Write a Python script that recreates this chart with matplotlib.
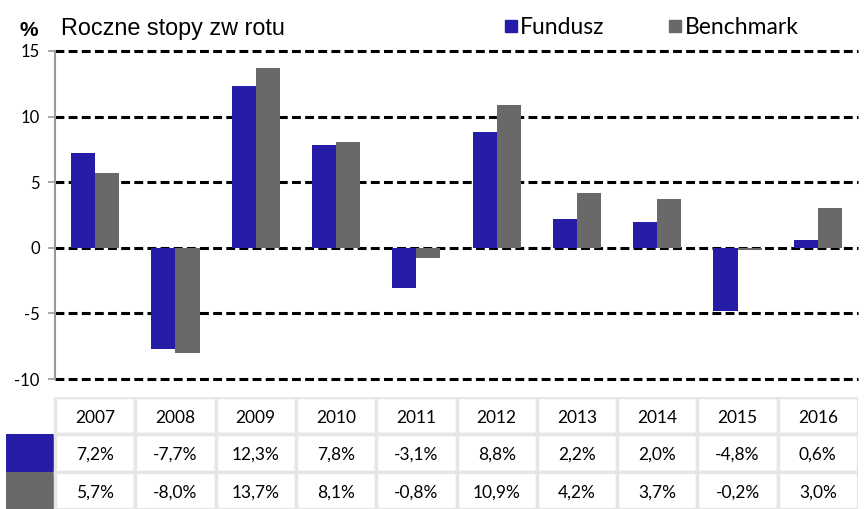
import matplotlib.pyplot as plt
from matplotlib.patches import Rectangle

years = ['2007', '2008', '2009', '2010', '2011', '2012', '2013', '2014', '2015', '2016']
fundusz = [7.2, -7.7, 12.3, 7.8, -3.1, 8.8, 2.2, 2.0, -4.8, 0.6]
benchmark = [5.7, -8.0, 13.7, 8.1, -0.8, 10.9, 4.2, 3.7, -0.2, 3.0]
y_ticks = [-10, -5, 0, 5, 10, 15]

blue = '#261DA6'
grey = '#696969'
W, H = 864, 509

fig = plt.figure(figsize=(8.64, 5.09), dpi=100)

def px_axes(x0, y0, x1, y1):
    # pixel box (top-left origin) -> figure axes
    return fig.add_axes([x0 / W, 1 - y1 / H, (x1 - x0) / W, (y1 - y0) / H])

ax = px_axes(55, 51, 858, 379)
n = len(years)
xs = [i + 0.5 for i in range(n)]
ax.bar([x - 0.15 for x in xs], fundusz, width=0.3, color=blue, zorder=3)
ax.bar([x + 0.15 for x in xs], benchmark, width=0.3, color=grey, zorder=3)
ax.set_xlim(0, n)
ax.set_ylim(-10, 15)
ax.set_yticks(y_ticks)
ax.set_yticklabels([str(t) for t in y_ticks], family='Lato', fontsize=12)
for t in y_ticks:
    ax.axhline(t, color='black', linestyle=(0, (2.9, 1.4)), linewidth=2.2,
               zorder=2, clip_on=False)
ax.set_xticks([])
for s in ['top', 'right', 'bottom']:
    ax.spines[s].set_visible(False)
ax.spines['left'].set_color('#999999')
ax.spines['left'].set_linewidth(1.5)
ax.tick_params(axis='y', color='#999999', length=5, width=1.2, pad=6)

# title
fig.text(19 / W, 1 - 30 / H, '%', family='Liberation Sans', fontsize=15,
         fontweight='bold', va='center', ha='left')
fig.text(61 / W, 1 - 29 / H, 'Roczne stopy zw rotu', family='Liberation Sans',
         fontsize=16.8, va='center', ha='left')

# legend
fig.patches.append(Rectangle((505 / W, 1 - 32 / H), 12 / W, 12 / H,
                             transform=fig.transFigure, color=blue))
fig.text(520 / W, 1 - 27 / H, 'Fundusz', family='Lato', fontsize=16.5,
         va='center', ha='left')
fig.patches.append(Rectangle((669 / W, 1 - 32 / H), 12 / W, 12 / H,
                             transform=fig.transFigure, color=grey))
fig.text(685 / W, 1 - 27 / H, 'Benchmark', family='Lato', fontsize=16.5,
         va='center', ha='left')

# data table
tax = px_axes(6, 397, 858, 509)
col_w = 80.3
left = 55 - 6
tax.set_xlim(0, 852)
tax.set_ylim(3, 0)
tax.axis('off')
rows = [years,
        [f'{v:.1f}%'.replace('.', ',') for v in fundusz],
        [f'{v:.1f}%'.replace('.', ',') for v in benchmark]]
tax.add_patch(Rectangle((0, 1), left, 1, color=blue, lw=0))
tax.add_patch(Rectangle((0, 2), left, 1, color=grey, lw=0))
for r, row in enumerate(rows):
    for c, txt in enumerate(row):
        x0 = left + c * col_w
        tax.add_patch(Rectangle((x0, r), col_w, 1, facecolor='white',
                                edgecolor='#e6e6e6', lw=2.5))
        tax.text(x0 + col_w / 2, r + 0.55, txt, family='Lato', fontsize=12.5,
                 ha='center', va='center')

fig.savefig('out.png', dpi=100)
